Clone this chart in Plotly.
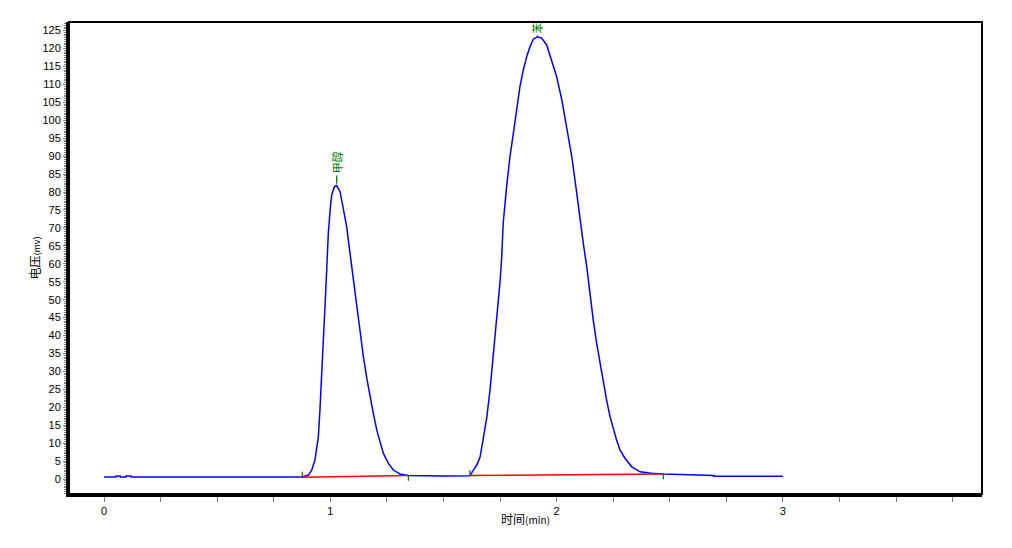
import plotly.graph_objects as go

# ---- data ----
time_min = [0.000, 0.053, 0.054, 0.071, 0.072, 0.097, 0.098, 0.119, 0.120, 0.500, 0.876,
            0.903, 0.918, 0.932, 0.947, 0.954, 0.962, 0.969, 0.977, 0.984, 0.991,
            0.999, 1.006, 1.018, 1.028, 1.043, 1.057, 1.072, 1.087, 1.102, 1.117,
            1.131, 1.146, 1.161, 1.175, 1.190, 1.205, 1.220, 1.234, 1.256, 1.278,
            1.308, 1.345, 1.500, 1.617, 1.632, 1.647, 1.662, 1.676, 1.691, 1.706,
            1.720, 1.735, 1.750, 1.757, 1.764, 1.779, 1.794, 1.809, 1.824, 1.838,
            1.853, 1.868, 1.883, 1.897, 1.915, 1.934, 1.956, 1.978, 2.000, 2.023,
            2.045, 2.067, 2.089, 2.103, 2.118, 2.133, 2.148, 2.162, 2.177, 2.192,
            2.206, 2.221, 2.236, 2.251, 2.265, 2.280, 2.302, 2.332, 2.369, 2.420,
            2.472, 2.694, 2.695, 3.000]
voltage_mv = [0.55, 0.55, 0.85, 0.85, 0.55, 0.55, 0.85, 0.85, 0.55, 0.55, 0.55,
              1.1, 2.5, 5.3, 11.8, 19.2, 28.5, 36.9, 49.0, 58.3, 68.5,
              75.0, 79.2, 81.5, 81.8, 80.1, 75.9, 70.4, 62.9, 55.5, 48.0,
              40.6, 34.1, 28.1, 23.0, 18.3, 13.7, 10.0, 7.2, 4.4, 2.5,
              1.4, 1.0, 0.85, 0.9, 2.5, 3.9, 6.2, 10.9, 17.0, 25.0,
              34.0, 44.0, 55.0, 61.5, 71.3, 81.5, 89.9, 96.4, 102.9, 109.4,
              114.1, 117.8, 120.6, 122.6, 123.3, 122.9, 121.0, 116.8, 112.2, 105.7,
              98.2, 89.9, 79.7, 72.2, 65.7, 59.2, 50.8, 44.3, 37.8, 32.3,
              26.7, 22.0, 17.4, 13.7, 10.9, 8.1, 5.8, 3.4, 2.0, 1.6,
              1.4, 1.0, 0.8, 0.8]

peak_names = ["甲醇", "苯"]
peak_start = [0.876, 1.617]
peak_start_v = [0.5, 0.95]
peak_end = [1.345, 2.472]
peak_end_v = [1.0, 1.4]
peak_apex_t = [1.028, 1.915]
peak_apex_v = [81.8, 123.3]

x_ticks = [0, 1, 2, 3]
y_ticks = list(range(0, 130, 5))

GREEN = "#008000"
fig = go.Figure()

# signal
fig.add_trace(go.Scatter(x=time_min, y=voltage_mv, mode="lines",
                         line=dict(color="#0000FF", width=1.5),
                         hoverinfo="skip", showlegend=False))

# baselines under each peak
for s, sv, e, ev in zip(peak_start, peak_start_v, peak_end, peak_end_v):
    fig.add_trace(go.Scatter(x=[s, e], y=[sv, ev], mode="lines",
                             line=dict(color="#FF0000", width=1.5),
                             hoverinfo="skip", showlegend=False))

# start / end markers
TL = 1.5
for s, sv, e, ev in zip(peak_start, peak_start_v, peak_end, peak_end_v):
    fig.add_trace(go.Scatter(x=[s, s], y=[sv, sv + TL], mode="lines",
                             line=dict(color=GREEN, width=1.3),
                             hoverinfo="skip", showlegend=False))
    fig.add_trace(go.Scatter(x=[e, e], y=[ev, ev - TL], mode="lines",
                             line=dict(color=GREEN, width=1.3),
                             hoverinfo="skip", showlegend=False))

# apex markers and names
label_gap = [2.8, 0.3]
for name, t, v, g in zip(peak_names, peak_apex_t, peak_apex_v, label_gap):
    fig.add_trace(go.Scatter(x=[t, t], y=[v + 0.5, v + g], mode="lines",
                             line=dict(color=GREEN, width=1.3),
                             hoverinfo="skip", showlegend=False, cliponaxis=True))
    fig.add_annotation(x=t, y=v + g, text=name, showarrow=False,
                       textangle=-90, yanchor="bottom", xanchor="center",
                       font=dict(family="Noto Sans CJK SC", size=11, color=GREEN))

fig.update_layout(
    width=996, height=532,
    margin=dict(l=61, r=22, t=14, b=46, autoexpand=False),
    paper_bgcolor="white", plot_bgcolor="white",
    font=dict(family="Liberation Sans", size=11, color="black"),
    shapes=[dict(type="rect", xref="paper", yref="paper", x0=0, y0=0, x1=1, y1=1,
                 line=dict(color="black", width=2), layer="above")],
)
fig.update_xaxes(
    range=[-0.155, 3.880], tickmode="array", tickvals=x_ticks,
    ticktext=[str(v) for v in x_ticks],
    ticks="outside", ticklen=5, tickcolor="#808080", tickwidth=1,
    minor=dict(dtick=0.25, tick0=0, ticks="outside", ticklen=5,
               tickcolor="#808080", tickwidth=1),
    showline=True, linewidth=3, linecolor="black", showgrid=False, zeroline=False,
    tickfont=dict(family="Liberation Sans", size=11, color="black"),
    title=dict(text="时间<span style='font-size:10px'>(min)</span>", standoff=0,
               font=dict(family="Noto Sans CJK SC", size=12, color="black")),
)
fig.update_yaxes(
    range=[-4.18, 127.4], tickmode="array", tickvals=y_ticks,
    ticktext=[str(v) for v in y_ticks],
    ticks="outside", ticklen=3, tickcolor="#808080", tickwidth=1,
    minor=dict(dtick=0.5, tick0=0, ticks="outside", ticklen=2,
               tickcolor="#808080", tickwidth=1),
    showline=True, linewidth=3, linecolor="black", showgrid=False, zeroline=False,
    tickfont=dict(family="Liberation Sans", size=11, color="black"),
    title=dict(text="电压<span style='font-size:9px'>(mv)</span>", standoff=0,
               font=dict(family="Noto Sans CJK SC", size=12, color="black")),
)

fig.write_html("out.html")
